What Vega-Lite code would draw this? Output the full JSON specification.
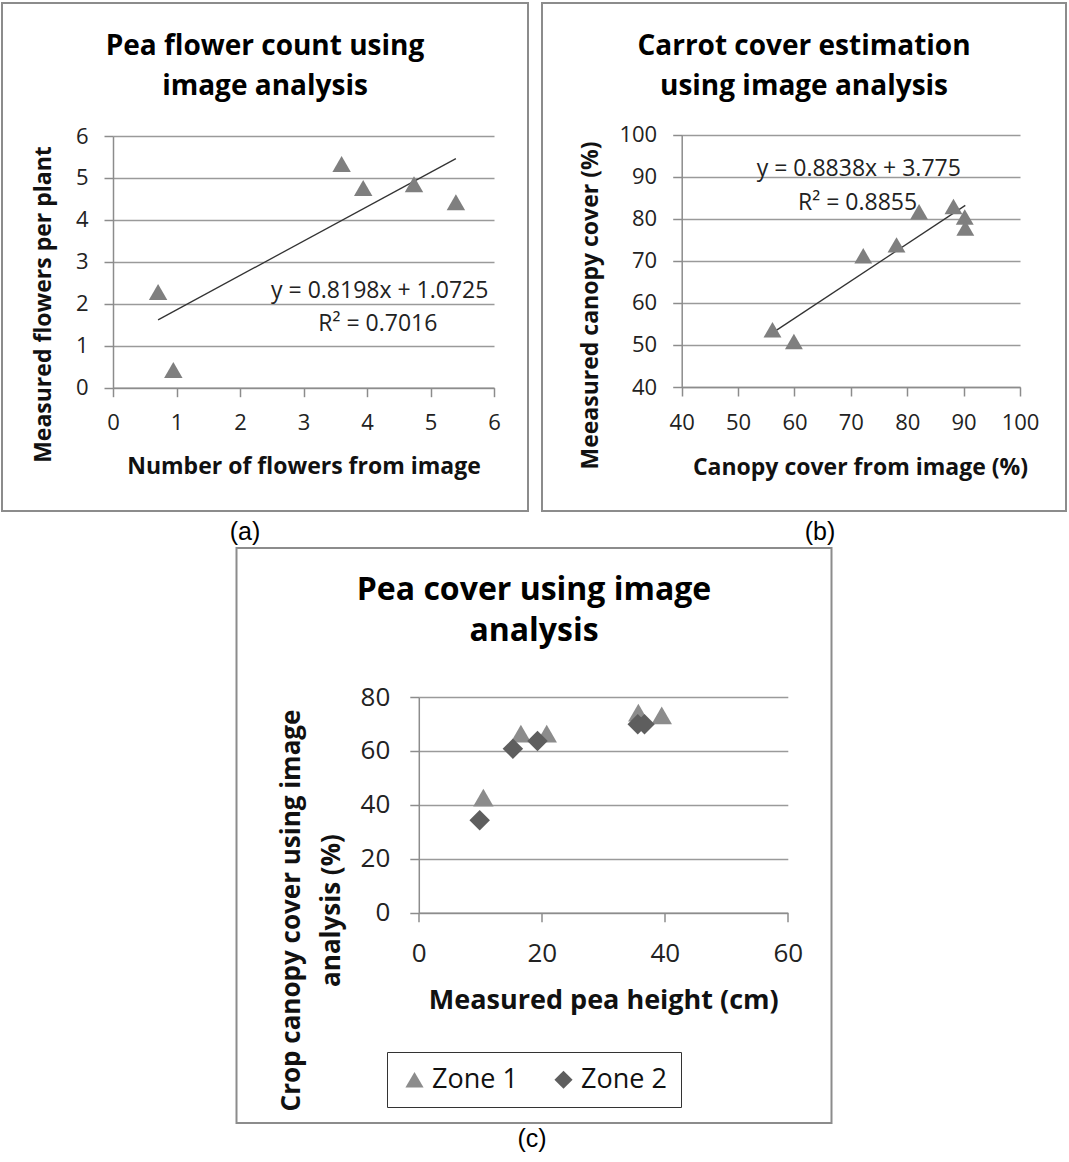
{
  "$schema": "https://vega.github.io/schema/vega-lite/v6.json",
  "background": "white",
  "padding": {"left": 1, "top": 2, "right": 0, "bottom": 0},
  "config": {
    "font": "Open Sans",
    "view": {"stroke": "#8c8c8c", "strokeWidth": 2},
    "axis": {
      "labelFont": "Open Sans", "labelFontSize": 22, "labelColor": "#222222",
      "titleFont": "Open Sans", "titleFontSize": 23, "titleFontWeight": "bold", "titleColor": "#111111",
      "domainColor": "#8c8c8c", "domainWidth": 1.5,
      "tickColor": "#8c8c8c", "tickWidth": 1.5, "tickSize": 9,
      "gridColor": "#9a9a9a", "gridWidth": 1.3,
      "labelPadding": 16, "labelFlush": false, "labelOverlap": false, "format": "d",
      "titleBaseline": "middle", "titleAlign": "center"
    },
    "title": {"font": "Open Sans", "fontWeight": "bold", "color": "#000000", "anchor": "middle", "frame": "group"}
  },
  "spacing": 2,
  "center": true,
  "vconcat": [
    {
      "spacing": 12,
      "hconcat": [
        {
          "title": {"text": "(a)", "orient": "bottom", "anchor": "middle", "frame": "bounds", "font": "Liberation Sans", "fontSize": 25, "fontWeight": "normal", "offset": 8, "dx": -20, "baseline": "top", "color": "#000000"},
          "vconcat": [
            {
              "width": 526, "height": 508,
              "title": {"text": ["Pea flower count using", "image analysis"], "anchor": "middle", "fontSize": 28, "baseline": "alphabetic", "offset": -120, "lineHeight": 40},
              "data": {"values": [
                {"x": 0.71, "y": 2.28}, {"x": 0.95, "y": 0.42}, {"x": 3.60, "y": 5.33},
                {"x": 3.94, "y": 4.76}, {"x": 4.74, "y": 4.85}, {"x": 5.40, "y": 4.42}
              ]},
              "layer": [
                {
                  "transform": [{"regression": "y", "on": "x"}],
                  "mark": {"type": "line", "color": "#333333", "strokeWidth": 1.3},
                  "encoding": {
                    "x": {"field": "x", "type": "quantitative", "scale": {"domain": [0, 6], "range": [111, 492]},
                      "axis": {"values": [0, 1, 2, 3, 4, 5, 6], "grid": false, "offset": -123.3, "title": "Number of flowers from image", "titleY": 79}},
                    "y": {"field": "y", "type": "quantitative", "scale": {"domain": [0, 6], "range": [384.7, 133]},
                      "axis": {"values": [0, 1, 2, 3, 4, 5, 6], "grid": true, "offset": -111, "title": "Measured flowers per plant", "titleX": -69.5, "titleY": 301}}
                  }
                },
                {
                  "mark": {"type": "point", "shape": "triangle-up", "filled": true, "size": 340, "color": "#7f7f7f", "opacity": 1},
                  "encoding": {
                    "x": {"field": "x", "type": "quantitative"},
                    "y": {"field": "y", "type": "quantitative"}
                  }
                },
                {
                  "data": {"values": [
                    {"x": 4.2, "y": 2.14, "label": "y = 0.8198x + 1.0725"},
                    {"x": 4.17, "y": 1.34, "label": "R² = 0.7016"}
                  ]},
                  "mark": {"type": "text", "font": "Open Sans", "fontSize": 23, "align": "center", "baseline": "alphabetic", "color": "#222222"},
                  "encoding": {
                    "x": {"field": "x", "type": "quantitative"},
                    "y": {"field": "y", "type": "quantitative"},
                    "text": {"field": "label"}
                  }
                }
              ]
            }
          ]
        },
        {
          "title": {"text": "(b)", "orient": "bottom", "anchor": "middle", "frame": "bounds", "font": "Liberation Sans", "fontSize": 25, "fontWeight": "normal", "offset": 8, "dx": 16, "baseline": "top", "color": "#000000"},
          "vconcat": [
            {
              "width": 524, "height": 508,
              "title": {"text": ["Carrot cover estimation", "using image analysis"], "anchor": "middle", "fontSize": 28, "baseline": "alphabetic", "offset": -120, "lineHeight": 40},
              "data": {"values": [
                {"x": 56.1, "y": 53.6}, {"x": 59.9, "y": 50.8}, {"x": 72.2, "y": 71.2},
                {"x": 78.1, "y": 73.8}, {"x": 82.1, "y": 81.7}, {"x": 88.2, "y": 82.9},
                {"x": 90.2, "y": 80.4}, {"x": 90.3, "y": 77.8}
              ]},
              "layer": [
                {
                  "transform": [{"regression": "y", "on": "x"}],
                  "mark": {"type": "line", "color": "#333333", "strokeWidth": 1.3},
                  "encoding": {
                    "x": {"field": "x", "type": "quantitative", "scale": {"domain": [40, 100], "range": [139.7, 478]},
                      "axis": {"values": [40, 50, 60, 70, 80, 90, 100], "grid": false, "offset": -124, "title": "Canopy cover from image (%)", "titleX": 318, "titleY": 80}},
                    "y": {"field": "y", "type": "quantitative", "scale": {"domain": [40, 100], "range": [384, 131.7]},
                      "axis": {"values": [40, 50, 60, 70, 80, 90, 100], "grid": true, "offset": -139.7, "title": "Meeasured canopy cover (%)", "titleX": -91.7, "titleY": 302}}
                  }
                },
                {
                  "mark": {"type": "point", "shape": "triangle-up", "filled": true, "size": 320, "color": "#7f7f7f", "opacity": 1},
                  "encoding": {
                    "x": {"field": "x", "type": "quantitative"},
                    "y": {"field": "y", "type": "quantitative"}
                  }
                },
                {
                  "data": {"values": [
                    {"x": 71.4, "y": 90.2, "label": "y = 0.8838x + 3.775"},
                    {"x": 71.2, "y": 82.1, "label": "R² = 0.8855"}
                  ]},
                  "mark": {"type": "text", "font": "Open Sans", "fontSize": 23, "align": "center", "baseline": "alphabetic", "color": "#222222"},
                  "encoding": {
                    "x": {"field": "x", "type": "quantitative"},
                    "y": {"field": "y", "type": "quantitative"},
                    "text": {"field": "label"}
                  }
                }
              ]
            }
          ]
        }
      ]
    },
    {
      "title": {"text": "(c)", "orient": "bottom", "anchor": "middle", "frame": "bounds", "font": "Liberation Sans", "fontSize": 25, "fontWeight": "normal", "offset": 3, "dx": -2, "baseline": "top", "color": "#000000"},
      "vconcat": [
        {
          "width": 595, "height": 575,
          "title": {"text": ["Pea cover using image", "analysis"], "anchor": "middle", "fontSize": 32, "baseline": "alphabetic", "offset": -125, "lineHeight": 41},
          "data": {"values": [
            {"zone": "Zone 1", "x": 10.5, "y": 42.7}, {"zone": "Zone 1", "x": 16.6, "y": 66.4},
            {"zone": "Zone 1", "x": 20.8, "y": 66.4}, {"zone": "Zone 1", "x": 35.7, "y": 74.2},
            {"zone": "Zone 1", "x": 39.5, "y": 73.2},
            {"zone": "Zone 2", "x": 9.9, "y": 34.3}, {"zone": "Zone 2", "x": 15.3, "y": 60.8},
            {"zone": "Zone 2", "x": 19.3, "y": 63.7}, {"zone": "Zone 2", "x": 35.6, "y": 69.9},
            {"zone": "Zone 2", "x": 36.7, "y": 69.9}
          ]},
          "mark": {"type": "point", "filled": true, "size": 420, "opacity": 1},
          "encoding": {
            "x": {"field": "x", "type": "quantitative", "scale": {"domain": [0, 60], "range": [182.3, 551.3]},
              "axis": {"values": [0, 20, 40, 60], "grid": false, "offset": -210.3, "title": "Measured pea height (cm)", "titleY": 88, "labelFontSize": 26, "titleFontSize": 27, "labelPadding": 19}},
            "y": {"field": "y", "type": "quantitative", "scale": {"domain": [0, 80], "range": [364.7, 149]},
              "axis": {"values": [0, 20, 40, 60, 80], "grid": true, "offset": -182.3, "title": ["Crop canopy cover using image", "analysis (%)"], "titleX": -127.3, "titleY": 362, "titleLineHeight": 40, "labelFontSize": 26, "titleFontSize": 26, "labelPadding": 20}},
            "color": {"field": "zone", "type": "nominal", "scale": {"domain": ["Zone 1", "Zone 2"], "range": ["#8c8c8c", "#5e5e5e"]},
              "legend": {"title": null, "orient": "none", "legendX": 385, "legendY": 1049, "direction": "horizontal", "strokeColor": "#333333", "fillColor": "white", "padding": 14, "labelFont": "Open Sans", "labelFontSize": 27, "labelColor": "#111111", "symbolSize": 330, "columnPadding": 32, "labelOffset": 4, "symbolStrokeWidth": 0}},
            "shape": {"field": "zone", "type": "nominal", "scale": {"domain": ["Zone 1", "Zone 2"], "range": ["triangle-up", "diamond"]},
              "legend": {"title": null, "orient": "none", "legendX": 385, "legendY": 1049, "direction": "horizontal", "strokeColor": "#333333", "fillColor": "white", "padding": 14, "labelFont": "Open Sans", "labelFontSize": 27, "labelColor": "#111111", "symbolSize": 330, "columnPadding": 32, "labelOffset": 4, "symbolStrokeWidth": 0}}
          }
        }
      ]
    }
  ]
}
